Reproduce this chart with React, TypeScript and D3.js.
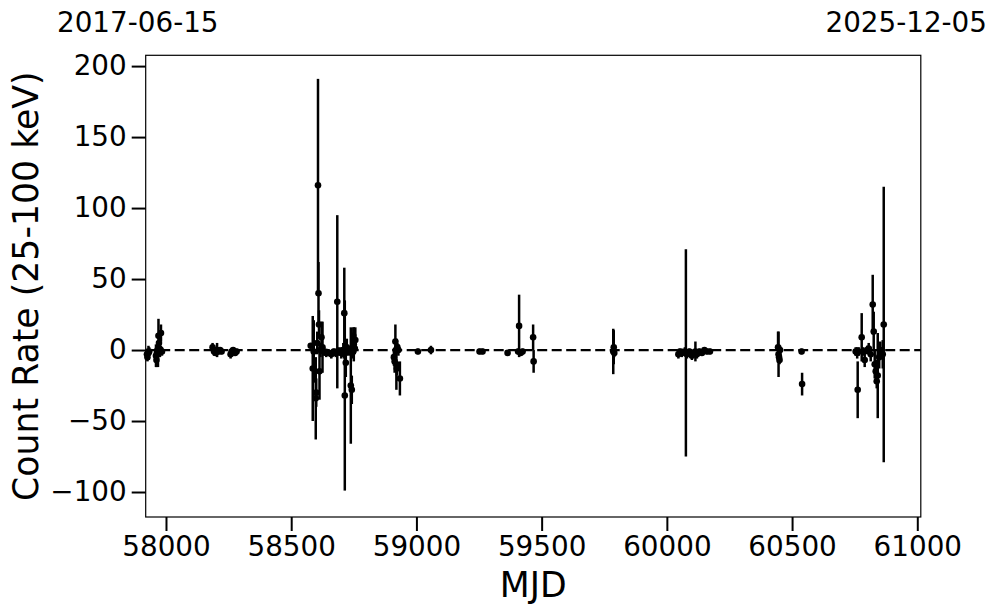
import { useEffect, useRef } from "react";
import * as d3 from "d3";

// observation epochs (MJD), count rate and 1-sigma error (25-100 keV)
const mjd = [
  57924, 57926, 57930, 57933, 57960, 57962, 57964, 57966, 57968, 57970, 57972, 57974, 57976, 57978, 57980, 57984,
  58186, 58192, 58198, 58204, 58210, 58216, 58222, 58258, 58262, 58268, 58276, 58282,
  58578, 58586, 58590, 58598, 58600, 58604, 58607, 58609, 58611, 58613, 58617, 58621, 58625, 58630, 58640, 58650,
  58660, 58670, 58678, 58684, 58690, 58700, 58708, 58712, 58714, 58718, 58722, 58730, 58738, 58742, 58744, 58748,
  58750, 58754, 58756,
  58910, 58913, 58916, 58918, 58920, 58922, 58924, 58928, 58934, 59006, 59058, 59252, 59264, 59364, 59406, 59410,
  59416, 59424, 59466, 59468,
  59786, 59788, 59790,
  60046, 60052, 60060, 60072, 60076, 60080, 60090, 60100, 60106, 60114, 60120, 60130, 60140, 60150, 60160, 60172,
  60444, 60446, 60448, 60450, 60452, 60538, 60540,
  60754, 60760, 60762, 60766, 60778, 60784, 60790, 60800, 60806, 60814, 60822, 60826, 60830, 60834, 60838, 60842,
  60848, 60852, 60862, 60866,
];
const rate = [
  -3, -5, -2, -1, -4, -7, -2, 0, -3, 10, 5, 1, -1, 0, 12, -1,
  2, -1, -2, 0, -1, 0, -1, -3, -1, 0, -2, -1,
  3, -13, -1, -34, -30, 5, 116, 40, 18, -15, 0, 9, 2, -1, -2, -2,
  -3, -1, -2, 34, -1, -2, 0, 26, -32, -9, 2, -1, -25, -28, 0, 10,
  4, 1, 7,
  -5, -8, 6, 0, -10, -13, 2, 0, -20, -1, 0, -1, -1, -2, -1, 17,
  -2, -1, 9, -8,
  -1, 2, -2,
  -3, -1, -2, -1, -2, -3, -1, -4, -2, -1, -3, -1, -2, 0, -1, -1,
  2, -3, -5, -7, 0, -1, -24,
  -1, -2, -28, -1, 9, -1, -7, 0, 1, -3, 32, 13, -10, -15, -22, -18,
  -5, 0, -3, 18,
];
const rateErr = [
  4, 3, 5, 3, 8, 5, 4, 6, 9, 12, 6, 5, 4, 3, 6, 3,
  3, 3, 2, 5, 2, 2, 2, 3, 2, 2, 2, 2,
  2, 37, 22, 29, 10, 8, 75, 22, 10, 20, 5, 11, 18, 3, 3, 2,
  3, 2, 3, 61, 3, 4, 5, 32, 67, 10, 6, 3, 41, 10, 6, 6,
  12, 4, 9,
  6, 8, 12, 3, 18, 5, 3, 4, 12, 2, 3, 2, 2, 2, 2, 22,
  2, 2, 9, 8,
  16, 12, 3,
  3, 2, 3, 3, 73, 3, 2, 3, 2, 7, 3, 2, 2, 2, 2, 2,
  11, 16, 4, 3, 3, 2, 8,
  3, 4, 20, 3, 17, 3, 5, 3, 4, 5, 21, 14, 10, 8, 5, 30,
  8, 6, 10, 97,
];

const xDomain = [57919, 61014];
const yDomain = [-117.6, 207.6];
const xTicks = [58000, 58500, 59000, 59500, 60000, 60500, 61000];
const yTicks = [-100, -50, 0, 50, 100, 150, 200];
const dateLabels = ["2017-06-15", "2025-12-05"];

export default function App() {
  const svgRef = useRef<SVGSVGElement>(null);

  useEffect(() => {
    if (!svgRef.current) return;
    const W = 997;
    const H = 613;
    const margin = { top: 55.3, right: 997 - 920.8, bottom: 613 - 517, left: 145.7 };
    const font = "DejaVu Sans, sans-serif";

    const root = d3.select(svgRef.current);
    root.selectAll("*").remove();
    root.attr("width", W).attr("height", H);

    const x = d3.scaleLinear().domain(xDomain).range([margin.left, W - margin.right]);
    const y = d3.scaleLinear().domain(yDomain).range([H - margin.bottom, margin.top]);

    const data = mjd.map((m, i) => ({ m, v: rate[i], e: rateErr[i] }));

    // zero line
    root
      .append("line")
      .attr("x1", x.range()[0])
      .attr("x2", x.range()[1])
      .attr("y1", y(0))
      .attr("y2", y(0))
      .attr("stroke", "#000")
      .attr("stroke-width", 2.2)
      .attr("stroke-dasharray", "10,4.5");

    // error bars
    root
      .append("g")
      .selectAll("line")
      .data(data)
      .enter()
      .append("line")
      .attr("x1", (d) => x(d.m))
      .attr("x2", (d) => x(d.m))
      .attr("y1", (d) => y(d.v - d.e))
      .attr("y2", (d) => y(d.v + d.e))
      .attr("stroke", "#000")
      .attr("stroke-width", 2.5);

    // points
    root
      .append("g")
      .selectAll("circle")
      .data(data)
      .enter()
      .append("circle")
      .attr("cx", (d) => x(d.m))
      .attr("cy", (d) => y(d.v))
      .attr("r", 3.3)
      .attr("fill", "#000");

    // frame
    root
      .append("rect")
      .attr("x", margin.left)
      .attr("y", margin.top)
      .attr("width", W - margin.left - margin.right)
      .attr("height", H - margin.top - margin.bottom)
      .attr("fill", "none")
      .attr("stroke", "#000")
      .attr("stroke-width", 1.2);

    // x axis
    const gx = root
      .append("g")
      .attr("transform", `translate(0,${H - margin.bottom})`)
      .call(d3.axisBottom(x).tickValues(xTicks).tickFormat(d3.format("d")).tickSize(14).tickSizeOuter(0).tickPadding(5));
    gx.select(".domain").remove();
    gx.selectAll("line").attr("stroke", "#000").attr("stroke-width", 2);
    gx.selectAll("text").attr("fill", "#000").style("font-family", font).style("font-size", "27.8px");

    // y axis
    const gy = root
      .append("g")
      .attr("transform", `translate(${margin.left},0)`)
      .call(d3.axisLeft(y).tickValues(yTicks).tickSize(14).tickSizeOuter(0).tickPadding(5));
    gy.select(".domain").remove();
    gy.selectAll("line").attr("stroke", "#000").attr("stroke-width", 2);
    gy.selectAll("text").attr("fill", "#000").style("font-family", font).style("font-size", "27.8px");

    // axis labels
    root
      .append("text")
      .attr("x", (margin.left + W - margin.right) / 2)
      .attr("y", 597)
      .attr("text-anchor", "middle")
      .style("font-family", font)
      .style("font-size", "34.7px")
      .text("MJD");

    root
      .append("text")
      .attr("transform", `translate(38,${(margin.top + H - margin.bottom) / 2}) rotate(-90)`)
      .attr("text-anchor", "middle")
      .style("font-family", font)
      .style("font-size", "34.7px")
      .text("Count Rate (25-100 keV)");

    // date labels along the top
    root
      .append("text")
      .attr("x", 57)
      .attr("y", 32)
      .attr("text-anchor", "start")
      .style("font-family", font)
      .style("font-size", "27.8px")
      .text(dateLabels[0]);
    root
      .append("text")
      .attr("x", 987)
      .attr("y", 32)
      .attr("text-anchor", "end")
      .style("font-family", font)
      .style("font-size", "27.8px")
      .text(dateLabels[1]);
  }, []);

  return (
    <div style={{ position: "absolute", left: 0, top: 0 }}>
      <svg ref={svgRef} style={{ display: "block", background: "#fff" }} />
    </div>
  );
}
